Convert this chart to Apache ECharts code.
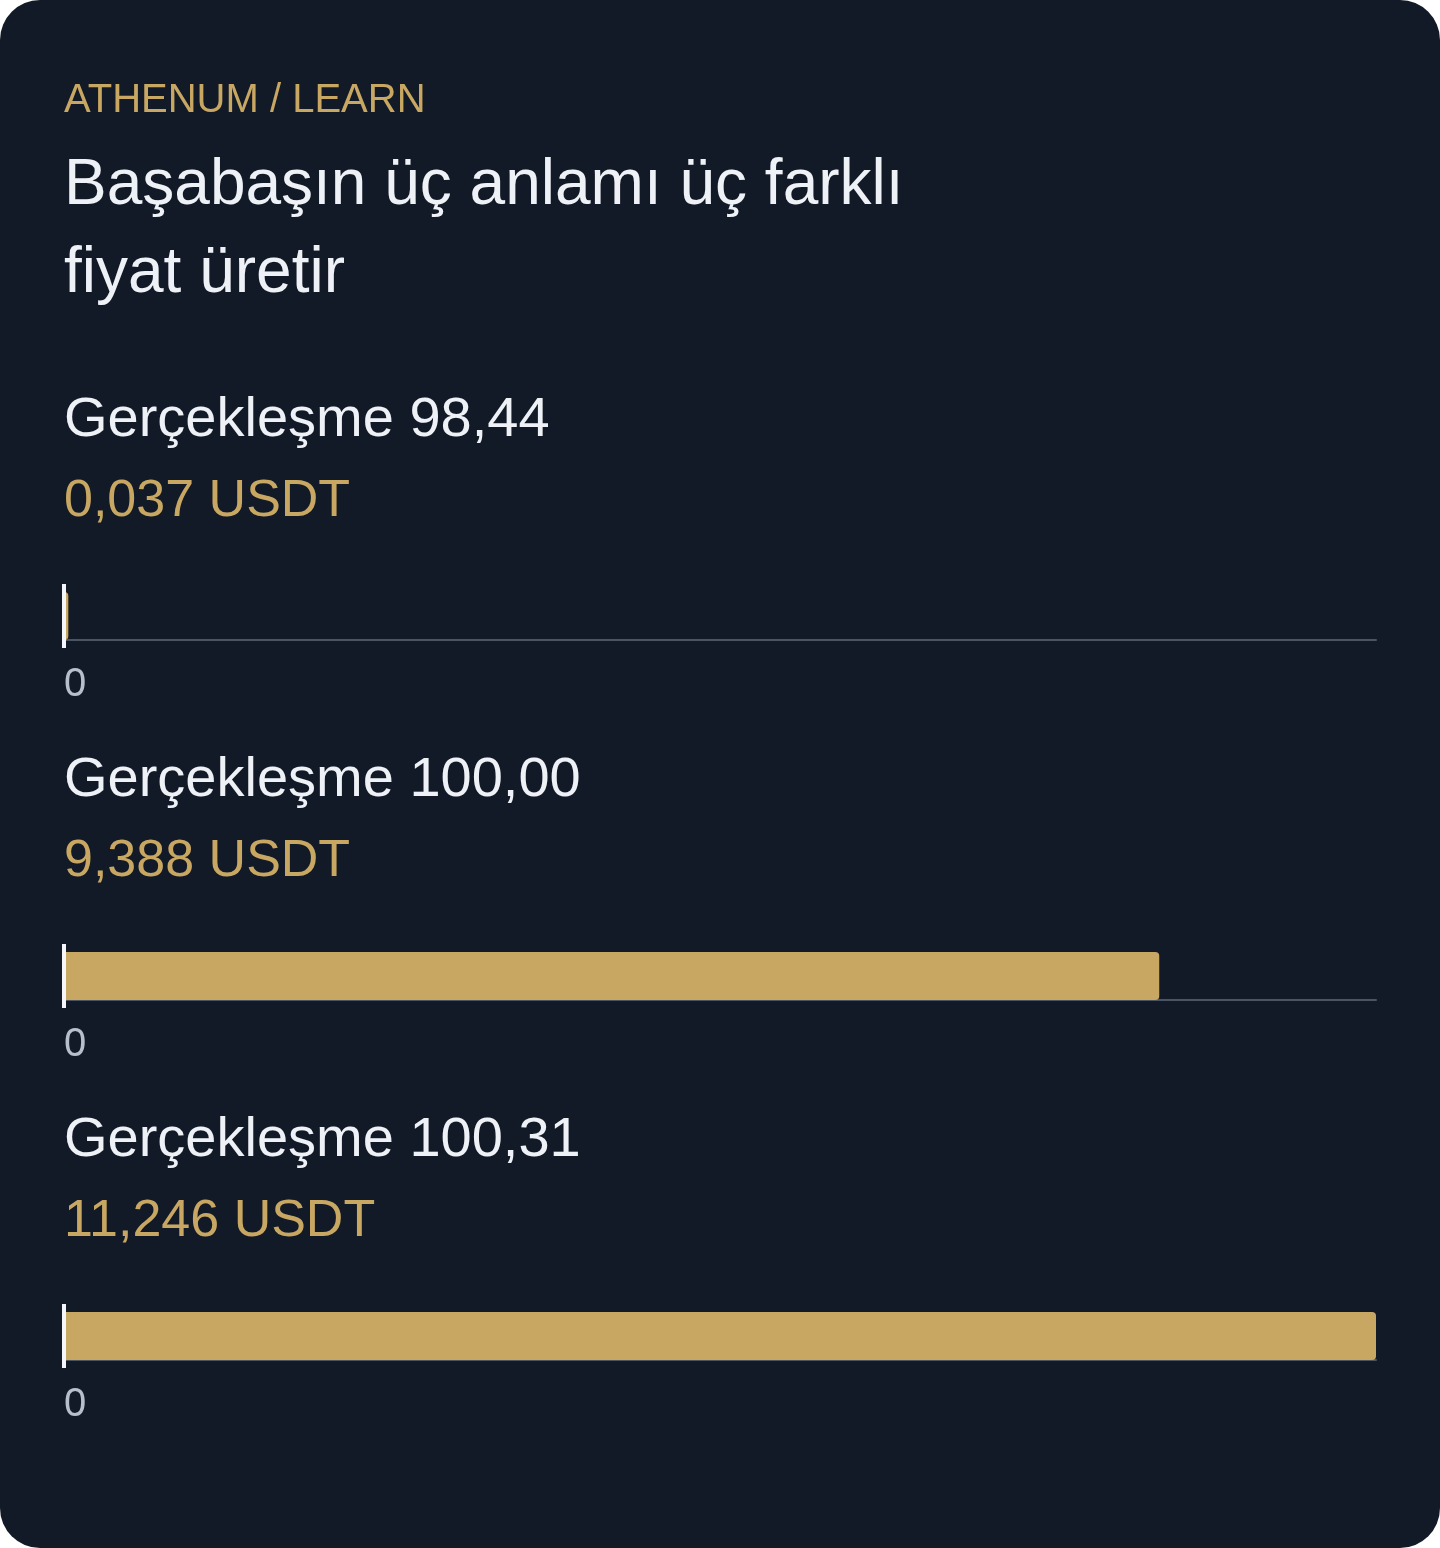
<!DOCTYPE html>
<html>
<head>
<meta charset="utf-8">
<script src="https://cdn.jsdelivr.net/npm/echarts@6/dist/echarts.min.js"></script>
<style>
  html, body { margin: 0; padding: 0; background: #ffffff; }
  #card { position: absolute; left: 0; top: 0; width: 1440px; height: 1548px; background: #131a27; border-radius: 40px; overflow: hidden; }
  #chart { width: 1440px; height: 1548px; }
</style>
</head>
<body>
<div id="card"><div id="chart"></div></div>
<script>
// ---- data ----
const kicker = 'ATHENUM / LEARN';
const headline = 'Başabaşın üç anlamı üç farklı\nfiyat üretir';
const executionPrices = [98.44, 100.00, 100.31];
const payouts = [0.037, 9.388, 11.246];
const unit = 'USDT';
const tickLabels = ['0'];

// ---- layout / style ----
const FONT = '"Liberation Sans", Arial, Helvetica, sans-serif';
const GOLD = '#c8a762';
const WHITE = '#eef1f6';
const AXIS_GRAY = '#4b5463';
const TICK_GRAY = '#b6bfcb';
const STEP = 360;
const LEFT = 64, RIGHT = 64, BAR_H = 48, GRID_TOP0 = 592;

const fmt = (v, d) => v.toFixed(d).replace('.', ',');
const xMax = Math.max(...payouts);

const chart = echarts.init(document.getElementById('chart'), null, { renderer: 'canvas' });

const titles = [
  { text: kicker, left: 64, top: 81, padding: 0, textStyle: { fontFamily: FONT, fontSize: 40, fontWeight: 'normal', color: GOLD, lineHeight: 40 } },
  { text: headline, left: 64, top: 142, padding: 0, textStyle: { fontFamily: FONT, fontSize: 64, fontWeight: 'normal', color: WHITE, lineHeight: 88 } }
];
const grids = [], xAxes = [], yAxes = [], series = [];
payouts.forEach((v, i) => {
  const off = i * STEP;
  titles.push({ text: 'Gerçekleşme ' + fmt(executionPrices[i], 2), left: 64, top: 393 + off, padding: 0,
    textStyle: { fontFamily: FONT, fontSize: 56, fontWeight: 'normal', color: WHITE, lineHeight: 56 } });
  titles.push({ text: fmt(v, 3) + ' ' + unit, left: 64, top: 476 + off, padding: 0,
    textStyle: { fontFamily: FONT, fontSize: 52, fontWeight: 'normal', color: GOLD, lineHeight: 52 } });
  grids.push({ left: LEFT, right: RIGHT, top: GRID_TOP0 + off, height: BAR_H, containLabel: false });
  xAxes.push({
    type: 'value', gridIndex: i, min: 0, max: xMax, interval: xMax,
    axisLine: { show: true, lineStyle: { color: AXIS_GRAY, width: 2 } },
    axisTick: { show: false }, splitLine: { show: false },
    axisLabel: { show: true, showMaxLabel: false, align: 'left', margin: 25,
      formatter: (val) => (val === 0 ? tickLabels[0] : ''),
      fontFamily: FONT, fontSize: 40, color: TICK_GRAY, lineHeight: 40 }
  });
  yAxes.push({ type: 'category', gridIndex: i, data: [''], show: false, boundaryGap: true });
  series.push({
    type: 'bar', xAxisIndex: i, yAxisIndex: i, data: [v], barWidth: '100%',
    itemStyle: { color: GOLD, borderRadius: [0, 4, 4, 0] }, silent: true, z: 3
  });
});

chart.setOption({
  backgroundColor: 'transparent',
  animation: false,
  title: titles,
  grid: grids, xAxis: xAxes, yAxis: yAxes, series: series
});

// white zero-marker at value 0 of each axis
const marks = payouts.map((v, i) => {
  const x = chart.convertToPixel({ xAxisIndex: i }, 0);
  const top = GRID_TOP0 + i * STEP;
  return { type: 'rect', shape: { x: x - 2, y: top - 8, width: 4, height: BAR_H + 16 },
    style: { fill: '#f4f6fa' }, z: 10, silent: true };
});
chart.setOption({ graphic: marks });
</script>
</body>
</html>
